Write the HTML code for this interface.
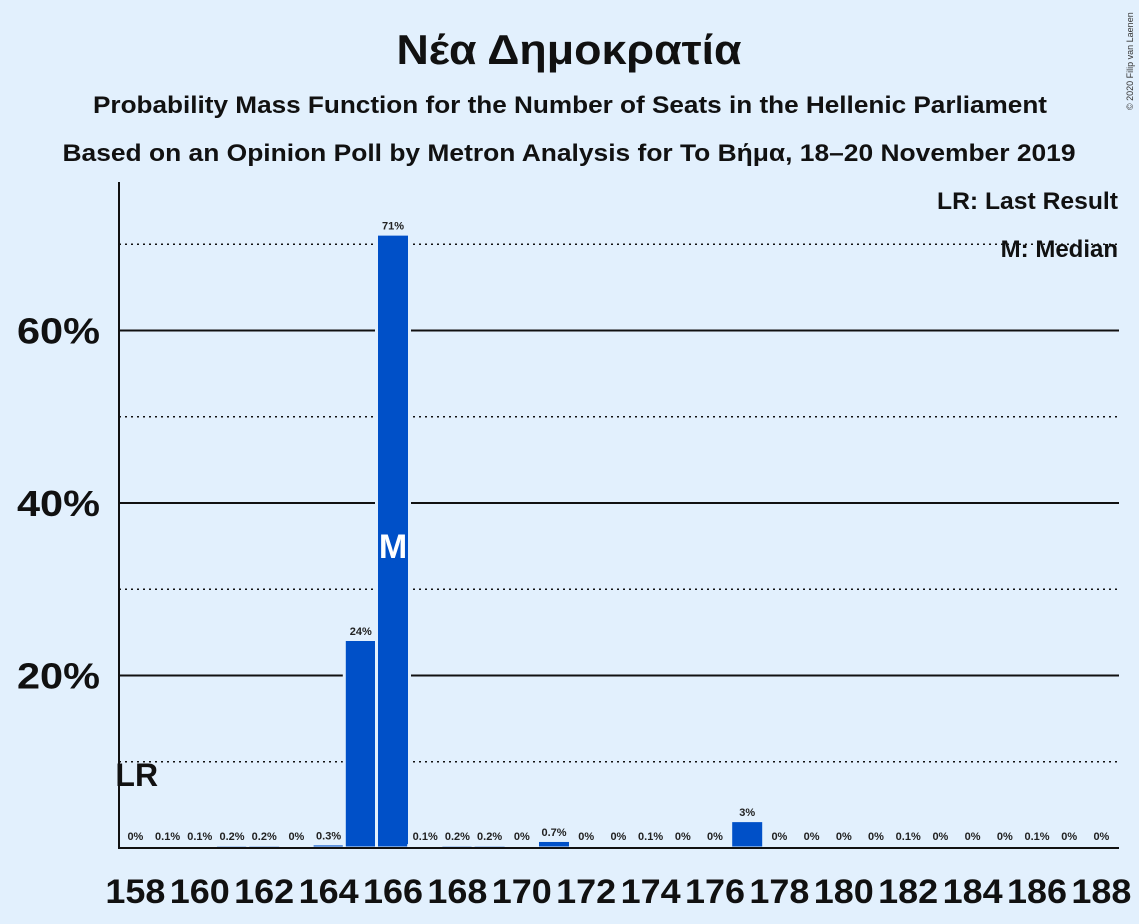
<!DOCTYPE html>
<html><head><meta charset="utf-8"><style>
body{margin:0;background:#e2f0fd;font-family:"Liberation Sans",sans-serif;}
</style></head><body>
<svg width="1139" height="924" xmlns="http://www.w3.org/2000/svg" style="display:block">
<rect width="1139" height="924" fill="#e2f0fd"/>
<text x="569" y="64" text-anchor="middle" font-size="42" font-weight="bold" fill="#111" textLength="345" lengthAdjust="spacingAndGlyphs">Νέα Δημοκρατία</text>
<text x="570" y="113" text-anchor="middle" font-size="24" font-weight="bold" fill="#111" textLength="954" lengthAdjust="spacingAndGlyphs">Probability Mass Function for the Number of Seats in the Hellenic Parliament</text>
<text x="569" y="161" text-anchor="middle" font-size="24" font-weight="bold" fill="#111" textLength="1013" lengthAdjust="spacingAndGlyphs">Based on an Opinion Poll by Metron Analysis for To Βήμα, 18–20 November 2019</text>
<text x="1133" y="110" font-size="9" fill="#333" transform="rotate(-90 1133 110)">© 2020 Filip van Laenen</text>
<g id="grid"></g>
<g id="bars"></g>
<g id="labels"></g>
<line x1="119" y1="182" x2="119" y2="848" stroke="#111" stroke-width="2"/>
<line x1="118" y1="848" x2="1119" y2="848" stroke="#111" stroke-width="2"/>
<text x="1118" y="209" text-anchor="end" font-size="24" font-weight="bold" fill="#111" textLength="181" lengthAdjust="spacingAndGlyphs">LR: Last Result</text>
<text x="1118" y="257" text-anchor="end" font-size="24" font-weight="bold" fill="#111">M: Median</text>
</svg>
<script>
const seats=[158,159,160,161,162,163,164,165,166,167,168,169,170,171,172,173,174,175,176,177,178,179,180,181,182,183,184,185,186,187,188];
const probs=[0,0.1,0.1,0.2,0.2,0,0.3,24,71,0.1,0.2,0.2,0,0.7,0,0,0.1,0,0,3,0,0,0,0,0.1,0,0,0,0.1,0,0];
const valueLabels=["0%","0.1%","0.1%","0.2%","0.2%","0%","0.3%","24%","71%","0.1%","0.2%","0.2%","0%","0.7%","0%","0%","0.1%","0%","0%","3%","0%","0%","0%","0%","0.1%","0%","0%","0%","0.1%","0%","0%"];
const yTicks=[20,40,60];
const yDotted=[10,30,50,70];
const lastResult=158, median=166;
const NS="http://www.w3.org/2000/svg";
const x=s=>135.4+(s-158)*32.2;
const y=p=>848-p*8.625;
function mk(t,a,parent){const e=document.createElementNS(NS,t);for(const k in a)e.setAttribute(k,a[k]);document.getElementById(parent).appendChild(e);return e;}
yDotted.forEach(v=>{const l=mk('line',{x1:119,x2:1119,y1:y(v),y2:y(v),stroke:'#111','stroke-width':1.5,'stroke-dasharray':'2,4'},'grid');

});
yTicks.forEach(v=>{const l=mk('line',{x1:119,x2:1119,y1:y(v),y2:y(v),stroke:'#111','stroke-width':2},'grid');


const t=mk('text',{x:100,y:y(v)+13,'text-anchor':'end','font-size':36,'font-weight':'bold',fill:'#111',textLength:83,lengthAdjust:'spacingAndGlyphs'},'labels');t.textContent=v+'%';

});
seats.forEach((s,i)=>{const p=probs[i];
if(p>0){const b=mk('rect',{x:x(s)-16.5,y:y(p)-1.5,width:33,height:848-y(p)+1.5,fill:'#0050c8',stroke:'#e2f0fd','stroke-width':3},'bars');

}
const t=mk('text',{x:x(s),y:Math.min(y(p)-6,840),'text-anchor':'middle','font-size':11,'font-weight':'bold',fill:'#222'},'labels');t.textContent=valueLabels[i];


if(s%2===0){const tl=mk('text',{x:x(s),y:903,'text-anchor':'middle','font-size':34,'font-weight':'bold',fill:'#111',textLength:60,lengthAdjust:'spacingAndGlyphs'},'labels');tl.textContent=s;

}
if(s===median){const m=mk('text',{x:x(s),y:y(35)+12,'text-anchor':'middle','font-size':34,'font-weight':'bold',fill:'#fff'},'labels');m.textContent='M';

}
if(s===lastResult){const m=mk('text',{x:x(s)-20,y:y(10)+24,'font-size':32,'font-weight':'bold',fill:'#111'},'labels');m.textContent='LR';

}
});
</script>
</body></html>
